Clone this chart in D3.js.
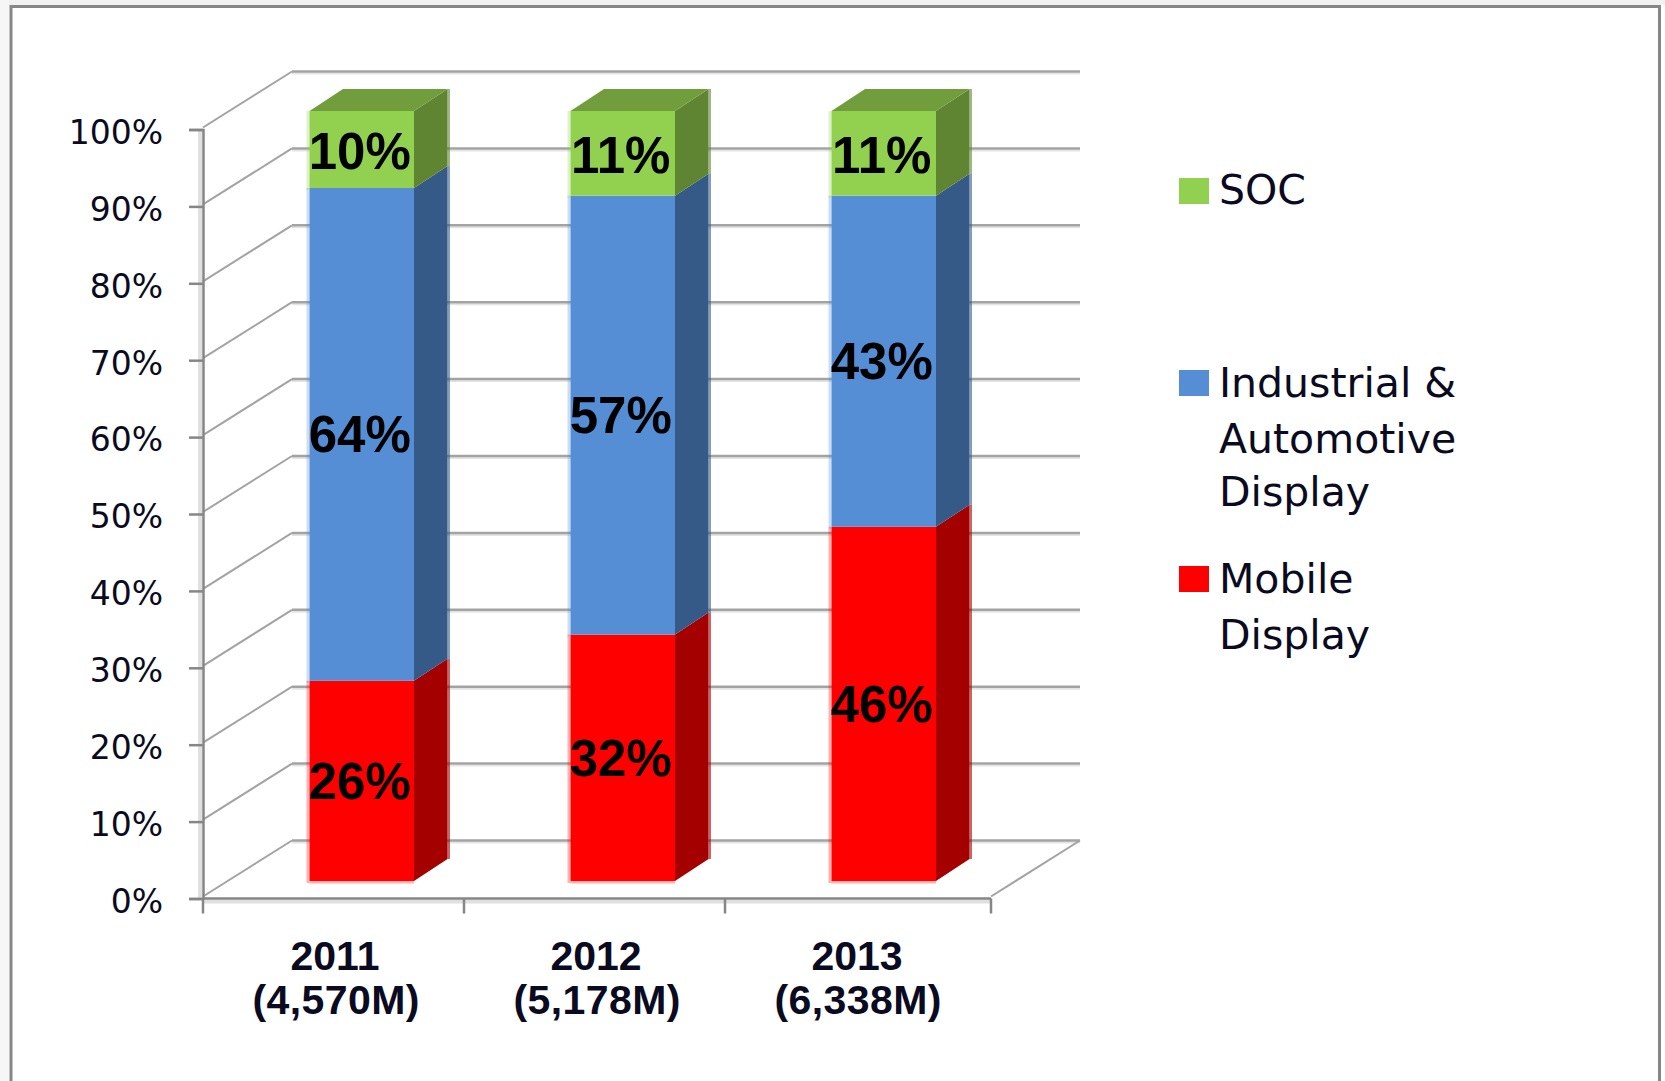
<!DOCTYPE html>
<html>
<head>
<meta charset="utf-8">
<script src="https://cdn.jsdelivr.net/npm/d3@7/dist/d3.min.js"></script>
<style>
html,body{margin:0;padding:0;background:#fff;overflow:hidden}
svg{display:block}
</style>
</head>
<body>
<svg id="chart" width="1665" height="1081"></svg>
<script>
const categories = ["2011","2012","2013"];
const totals = ["(4,570M)","(5,178M)","(6,338M)"];
const mobile = [26,32,46];
const industrial = [64,57,43];
const soc = [10,11,11];
const yTicks = [0,10,20,30,40,50,60,70,80,90,100];
const seriesNames = ["Mobile","Industrial","SOC"];
const seriesFront = ["#ff0000","#558ed5","#92d050"];
const seriesSide = ["#a40000","#365a88","#5f8532"];
const topColor = "#729d3c";
const legendLines = [["SOC"],["Industrial &","Automotive","Display"],["Mobile","Display"]];
const legendColors = ["#92d050","#558ed5","#ff0000"];

const svg = d3.select("#chart");
const W=1665,H=1081;
const y = d3.scaleLinear().domain([0,100]).range([898.5,129.5]);
const barY = d3.scaleLinear().domain([0,100]).range([881,111]);
const x = d3.scaleBand().domain(categories).range([203,986]);
const wallDx=89, wallDy=-58, xEnd=991;
const barOff=106.5, barW=104.5, depthX=33.5, depthY=-22;
const gridGrey="#a3a3a3", axisGrey="#868686", lightGrey="#e0e0e0";

// frame
svg.append("rect").attr("x",0).attr("y",0).attr("width",W).attr("height",5).attr("fill","#f1f1f1");
svg.append("rect").attr("x",0).attr("y",0).attr("width",9).attr("height",H).attr("fill","#f6f6f6");
svg.append("path").attr("d",`M11,${H}V6.5H1659.5V${H}`).attr("fill","none").attr("stroke","#868686").attr("stroke-width",3);

// walls: back grid and side diagonals
const grid = svg.append("g");
yTicks.forEach(t=>{
  const yy=y(t);
  const by=yy+wallDy;
  grid.append("line").attr("x1",203+wallDx).attr("x2",203+wallDx+788).attr("y1",by+2).attr("y2",by+2).attr("stroke","#e4e4e4").attr("stroke-width",2);
  grid.append("line").attr("x1",203+wallDx).attr("x2",203+wallDx+788).attr("y1",by).attr("y2",by).attr("stroke",gridGrey).attr("stroke-width",2.5);
  grid.append("line").attr("x1",203).attr("x2",203+wallDx).attr("y1",yy-2).attr("y2",by).attr("stroke",gridGrey).attr("stroke-width",2);
});
grid.append("line").attr("x1",xEnd).attr("x2",xEnd+wallDx).attr("y1",y(0)-2).attr("y2",y(0)+wallDy).attr("stroke",gridGrey).attr("stroke-width",2);

// y axis
svg.append("rect").attr("x",198).attr("y",y(100)).attr("width",4).attr("height",y(0)-y(100)).attr("fill",lightGrey);
const yAxis = d3.axisLeft(y).tickValues(yTicks).tickFormat(d=>d+"%").tickSize(14).tickPadding(26);
const yG = svg.append("g").attr("transform","translate(203,0)").call(yAxis);
yG.select(".domain").attr("stroke",axisGrey).attr("stroke-width",2.5);
yG.selectAll(".tick line").attr("stroke",axisGrey).attr("stroke-width",2.5);
yG.selectAll(".tick text").attr("font-family","'DejaVu Sans'").attr("font-size",33).attr("fill","#0a0a20").attr("dy","0.42em");

// x axis
svg.append("rect").attr("x",203).attr("y",y(0)+1).attr("width",xEnd-203).attr("height",4).attr("fill",lightGrey);
svg.append("line").attr("x1",203).attr("x2",xEnd).attr("y1",y(0)).attr("y2",y(0)).attr("stroke",axisGrey).attr("stroke-width",2.5);
const xTickPos = categories.map(c=>x(c)).concat([xEnd]);
svg.selectAll(".xt").data(xTickPos).join("line").attr("class","xt")
  .attr("x1",d=>d).attr("x2",d=>d).attr("y1",y(0)).attr("y2",y(0)+15)
  .attr("stroke",axisGrey).attr("stroke-width",2.5);

const catLabels = svg.append("g").attr("font-family","'Liberation Sans'").attr("font-weight","bold").attr("font-size",41).attr("fill","#0a0a20").attr("text-anchor","middle");
categories.forEach((c,i)=>{
  const cx=x(c)+133;
  catLabels.append("text").attr("x",cx-1).attr("y",970).text(c);
  catLabels.append("text").attr("x",cx).attr("y",1014).attr("textLength",167).text(totals[i]);
});

// bars
const series=[mobile,industrial,soc];
categories.forEach((c,i)=>{
  const g=svg.append("g");
  const x0=x(c)+barOff, x1=x0+barW;
  let acc=0;
  const segs=series.map((s,k)=>{const a=acc;acc+=s[i];return {k,a,b:acc,v:s[i]};});
  segs.forEach(sg=>{
    const yb=barY(sg.a), yt=barY(sg.b);
    g.append("rect").attr("x",x0-3).attr("y",yt).attr("width",3).attr("height",yb-yt+2).attr("fill",seriesFront[sg.k]).attr("opacity",.3);
    g.append("rect").attr("x",x0).attr("y",yb).attr("width",barW).attr("height",sg.k===0?2.5:0).attr("fill",seriesFront[sg.k]).attr("opacity",.3);
    g.append("rect").attr("x",x0).attr("y",yt).attr("width",barW).attr("height",yb-yt).attr("fill",seriesFront[sg.k]);
    g.append("path").attr("d",`M${x1},${yb}L${x1+depthX},${yb+depthY}V${yt+depthY}L${x1},${yt}Z`).attr("fill",seriesSide[sg.k]);
    g.append("rect").attr("x",x1+depthX).attr("y",yt+depthY).attr("width",2.5).attr("height",yb-yt).attr("fill",seriesSide[sg.k]).attr("opacity",.6);
  });
  const topY=barY(100);
  g.append("path").attr("d",`M${x0},${topY}L${x0+depthX},${topY+depthY}H${x1+depthX}L${x1},${topY}Z`).attr("fill",topColor);
});

// data labels
categories.forEach((c,i)=>{
  const cx=x(c)+barOff+barW/2-2;
  let acc=0;
  series.forEach((s,k)=>{
    const mid=acc+s[i]/2; acc+=s[i];
    svg.append("text").attr("x",cx).attr("y",barY(mid)+(k===2?1.5:0)).attr("dy","0.35em")
      .attr("text-anchor","middle").attr("font-family","'Liberation Sans'").attr("font-weight","bold")
      .attr("font-size",51).attr("fill","#000").text(s[i]+"%");
  });
});

// legend
const legendSwatchY=[191,383,579];
const legendBase=[[204],[397,453,506],[593,649]];
legendLines.forEach((lines,i)=>{
  svg.append("rect").attr("x",1179).attr("y",legendSwatchY[i]-13).attr("width",30).attr("height",26).attr("fill",legendColors[i]);
  lines.forEach((t,j)=>{
    svg.append("text").attr("x",1219).attr("y",legendBase[i][j]).attr("font-family","'DejaVu Sans'").attr("font-size",41).attr("fill","#0a0a20").text(t);
  });
});
</script>
</body>
</html>
